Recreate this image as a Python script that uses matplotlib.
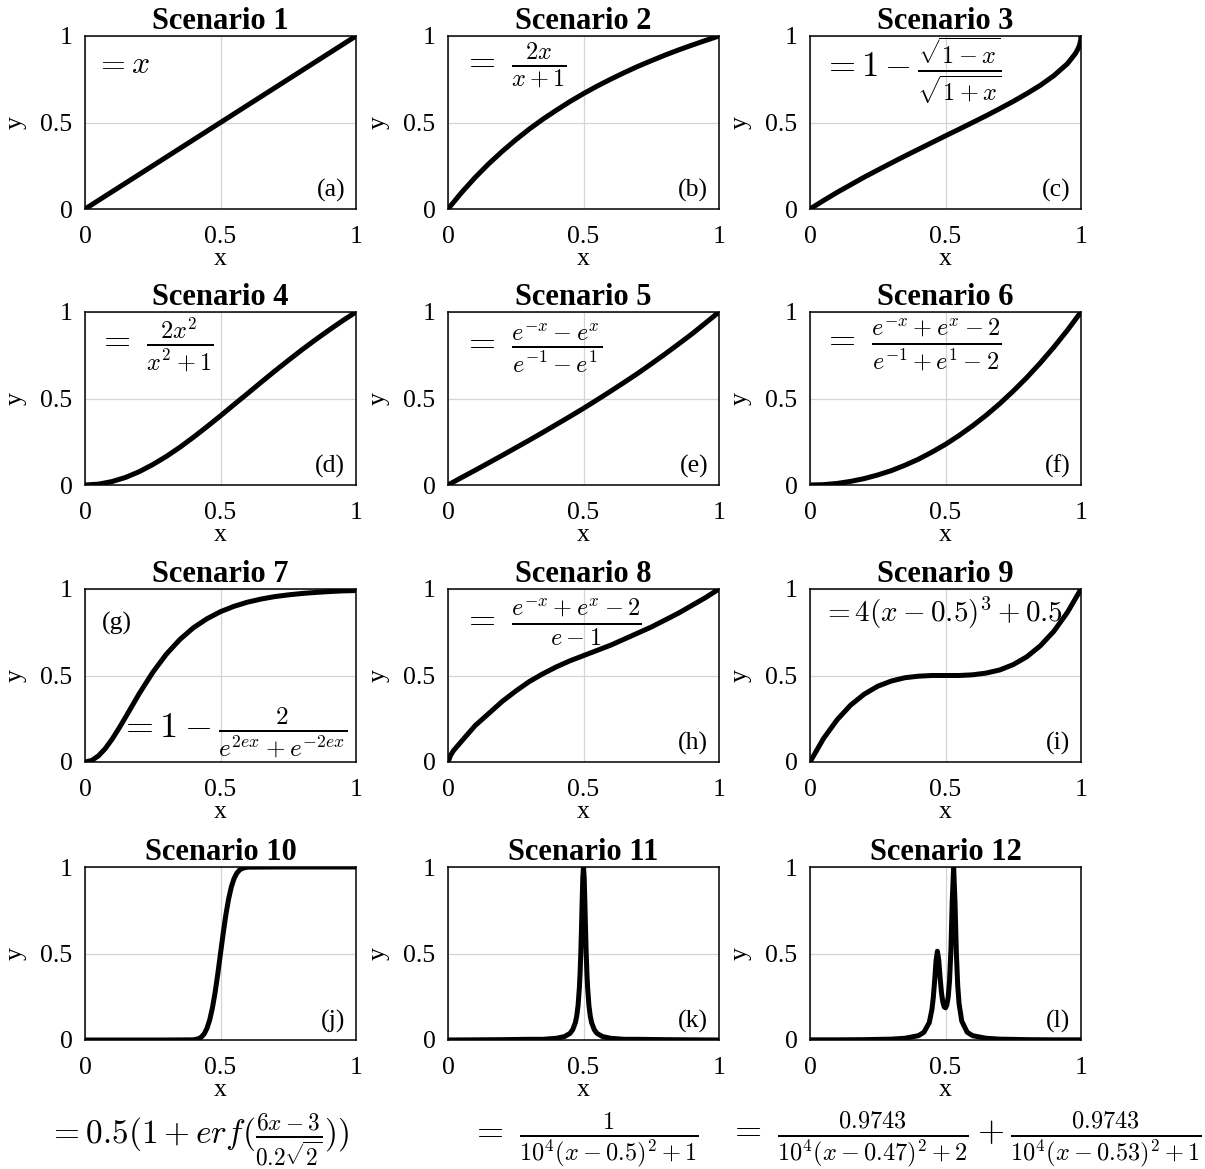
import numpy as np
import matplotlib
matplotlib.use("Agg")
import matplotlib.pyplot as plt

plt.rcParams['font.family'] = ['Liberation Serif', 'DejaVu Serif']
plt.rcParams['mathtext.fontset'] = 'cm'

# values
xg = [0, 0.05, 0.1, 0.15, 0.2, 0.25, 0.3, 0.35, 0.4, 0.45, 0.5,
      0.55, 0.6, 0.65, 0.7, 0.75, 0.8, 0.85, 0.9, 0.95, 1]

x1 = [0, 1]
y1 = [0, 1]
y2 = [0, 0.095, 0.182, 0.261, 0.333, 0.400, 0.462, 0.519, 0.571, 0.621, 0.667,
      0.710, 0.750, 0.788, 0.824, 0.857, 0.889, 0.919, 0.947, 0.974, 1]
x3 = [0, 0.05, 0.1, 0.15, 0.2, 0.25, 0.3, 0.35, 0.4, 0.45, 0.5, 0.55, 0.6,
      0.65, 0.7, 0.75, 0.8, 0.85, 0.9, 0.95, 0.98, 0.99, 0.995, 0.999, 1]
y3 = [0, 0.049, 0.096, 0.140, 0.184, 0.225, 0.266, 0.306, 0.345, 0.384, 0.423,
      0.461, 0.500, 0.539, 0.580, 0.622, 0.667, 0.715, 0.771, 0.840, 0.900,
      0.929, 0.950, 0.978, 1]
y4 = [0, 0.005, 0.020, 0.044, 0.077, 0.118, 0.165, 0.218, 0.276, 0.337, 0.400,
      0.465, 0.529, 0.594, 0.658, 0.720, 0.781, 0.839, 0.895, 0.949, 1]
y5 = [0, 0.043, 0.085, 0.128, 0.171, 0.215, 0.259, 0.304, 0.350, 0.396, 0.443,
      0.492, 0.542, 0.593, 0.645, 0.700, 0.756, 0.814, 0.873, 0.936, 1]
y6 = [0, 0.002, 0.009, 0.021, 0.037, 0.058, 0.083, 0.114, 0.149, 0.190, 0.235,
      0.286, 0.342, 0.403, 0.470, 0.543, 0.621, 0.706, 0.797, 0.895, 1]
x7 = [0, 0.025, 0.05, 0.075, 0.1, 0.125, 0.15, 0.2, 0.25, 0.3, 0.35, 0.4, 0.45,
      0.5, 0.55, 0.6, 0.65, 0.7, 0.75, 0.8, 0.85, 0.9, 0.95, 1]
y7 = [0, 0.009, 0.036, 0.078, 0.132, 0.194, 0.260, 0.395, 0.518, 0.623, 0.708,
      0.776, 0.828, 0.869, 0.900, 0.924, 0.942, 0.956, 0.966, 0.974, 0.980,
      0.985, 0.989, 0.991]
x8 = [0, 0.01, 0.02, 0.05, 0.1, 0.15, 0.2, 0.25, 0.3, 0.35, 0.4, 0.45, 0.5,
      0.55, 0.6, 0.65, 0.7, 0.75, 0.8, 0.85, 0.9, 0.95, 1]
y8 = [0, 0.04, 0.065, 0.12, 0.21, 0.28, 0.35, 0.41, 0.465, 0.51, 0.55, 0.585,
      0.615, 0.645, 0.675, 0.71, 0.745, 0.78, 0.82, 0.86, 0.905, 0.95, 1]
y9 = [0, 0.136, 0.244, 0.329, 0.392, 0.438, 0.468, 0.487, 0.496, 0.500, 0.500,
      0.500, 0.504, 0.514, 0.532, 0.563, 0.608, 0.672, 0.756, 0.865, 1]
x10 = [0, 0.3, 0.4, 0.41, 0.42, 0.43, 0.44, 0.45, 0.46, 0.47, 0.48, 0.49, 0.5,
       0.51, 0.52, 0.53, 0.54, 0.55, 0.56, 0.57, 0.58, 0.59, 0.6, 0.7, 1]
y10 = [0, 0, 0.001, 0.004, 0.008, 0.018, 0.036, 0.067, 0.115, 0.184, 0.274,
       0.382, 0.500, 0.618, 0.726, 0.816, 0.885, 0.933, 0.964, 0.982, 0.992,
       0.996, 0.999, 1, 1]
x11 = [0, 0.2, 0.3, 0.35, 0.4, 0.43, 0.45, 0.46, 0.47, 0.475, 0.48, 0.485,
       0.4875, 0.49, 0.4925, 0.495, 0.4975, 0.5, 0.5025, 0.505, 0.5075, 0.51,
       0.5125, 0.515, 0.52, 0.525, 0.53, 0.54, 0.55, 0.57, 0.6, 0.65, 0.7,
       0.8, 1]
y11 = [0, 0.002, 0.004, 0.004, 0.010, 0.020, 0.038, 0.059, 0.100, 0.138, 0.200,
       0.308, 0.390, 0.500, 0.640, 0.800, 0.941, 1.0, 0.941, 0.800, 0.640,
       0.500, 0.390, 0.308, 0.200, 0.138, 0.100, 0.059, 0.038, 0.020, 0.010,
       0.004, 0.004, 0.002, 0]
x12 = [0, 0.1, 0.2, 0.3, 0.35, 0.4, 0.42, 0.44, 0.45, 0.455, 0.46, 0.465, 0.47,
       0.475, 0.48, 0.485, 0.49, 0.495, 0.5, 0.505, 0.51, 0.515, 0.52, 0.525,
       0.53, 0.535, 0.54, 0.545, 0.55, 0.56, 0.58, 0.6, 0.65, 0.7, 0.8, 0.9, 1]
y12 = [0.001, 0.001, 0.002, 0.005, 0.010, 0.025, 0.044, 0.100, 0.177, 0.246,
       0.344, 0.456, 0.513, 0.464, 0.362, 0.275, 0.220, 0.192, 0.186, 0.203,
       0.249, 0.344, 0.523, 0.810, 1.0, 0.801, 0.506, 0.317, 0.210, 0.109,
       0.045, 0.025, 0.010, 0.005, 0.002, 0.001, 0.001]

xs = [x1, xg, x3, xg, xg, xg, x7, x8, xg, x10, x11, x12]
ys = [y1, y2, y3, y4, y5, y6, y7, y8, y9, y10, y11, y12]

titles = ['Scenario %d' % (i + 1) for i in range(12)]
tags = ['(a)', '(b)', '(c)', '(d)', '(e)', '(f)', '(g)', '(h)', '(i)', '(j)', '(k)', '(l)']

formulas = [r'$= x$',
            r'$=\ \frac{2x}{x+1}$',
            r'$= 1 - \frac{\sqrt{1-x}}{\sqrt{1+x}}$',
            r'$=\ \frac{2x^2}{x^2+1}$',
            r'$=\ \frac{e^{-x}-e^{x}}{e^{-1}-e^{1}}$',
            r'$=\ \frac{e^{-x}+e^{x}-2}{e^{-1}+e^{1}-2}$',
            r'$= 1 - \frac{2}{e^{2ex}+e^{-2ex}}$',
            r'$=\ \frac{e^{-x}+e^{x}-2}{e-1}$',
            r'$= 4(x-0.5)^3+0.5$']
bottom_formulas = [r'$= 0.5(1+erf(\frac{6x-3}{0.2\sqrt{2}}))$',
                   r'$=\ \frac{1}{10^4(x-0.5)^2+1}$',
                   r'$=\ \frac{0.9743}{10^4(x-0.47)^2+2} + \frac{0.9743}{10^4(x-0.53)^2+1}$']

fig = plt.figure(figsize=(12.05, 11.69), dpi=100)
W, H = 1205., 1169.
lefts = [85, 448, 810]
bottoms = [209, 485, 762, 1040]

# formula placement (axes coords) and size
fpos = [(0.037, 0.83, 23), (0.052, 0.83, 25), (0.044, 0.80, 25),
        (0.044, 0.81, 25), (0.052, 0.79, 25), (0.044, 0.81, 25),
        (0.125, 0.17, 26), (0.052, 0.81, 25), (0.045, 0.86, 21)]

for i in range(12):
    r, c = divmod(i, 3)
    ax = fig.add_axes([lefts[c] / W, 1 - bottoms[r] / H, 271 / W, 173 / H])
    ax.plot(xs[i], ys[i], color='k', lw=3.6)
    ax.set_xlim(0, 1)
    ax.set_ylim(0, 1)
    ax.set_xticks([0, 0.5, 1])
    ax.set_yticks([0, 0.5, 1])
    ax.set_xticklabels(['0', '0.5', '1'])
    ax.set_yticklabels(['0', '0.5', '1'])
    ax.tick_params(length=0, labelsize=18.5, pad=9)
    ax.tick_params(axis='x', pad=12)
    ax.grid(True, color='#d4d4d4', lw=0.9)
    ax.set_axisbelow(True)
    for s in ax.spines.values():
        s.set_linewidth(1.1)
    ax.set_xlabel('x', fontsize=18.5, labelpad=0)
    ax.set_ylabel('y', fontsize=18.5, labelpad=10)
    pad = -1 if i == 3 else 4
    ax.set_title(titles[i], fontsize=22, fontweight='bold', pad=pad)
    if i == 6:
        ax.text(0.063, 0.80, tags[i], transform=ax.transAxes, fontsize=18.5,
                va='center', ha='left')
    else:
        ax.text(0.96, 0.11, tags[i], transform=ax.transAxes, fontsize=18.5,
                va='center', ha='right')
    if i < 9:
        fx, fy, fs = fpos[i]
        ax.text(fx, fy, formulas[i], transform=ax.transAxes, fontsize=fs,
                va='center', ha='left')

fig.text(48 / W, 1 - 1140 / H, bottom_formulas[0], fontsize=24, va='center', ha='left')
fig.text(470 / W, 1 - 1140 / H, bottom_formulas[1], fontsize=25, va='center', ha='left')
fig.text(728 / W, 1 - 1140 / H, bottom_formulas[2], fontsize=25, va='center', ha='left')

fig.savefig('out.png', dpi=100)
